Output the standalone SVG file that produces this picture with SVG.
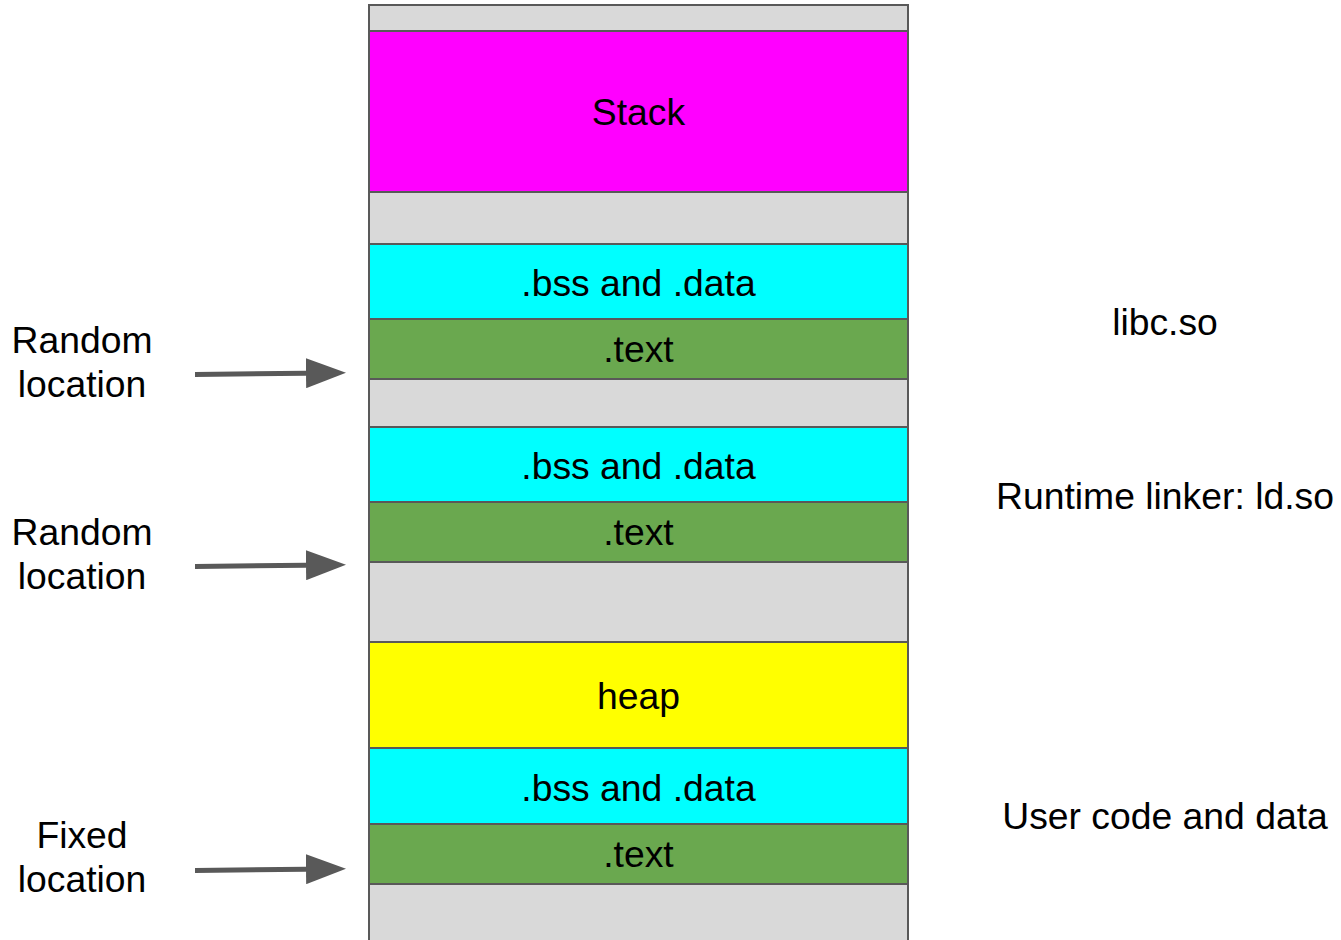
<svg xmlns="http://www.w3.org/2000/svg" width="1341" height="940" viewBox="0 0 1341 940">
<style>
.seg{stroke:#595959;stroke-width:2}
.g{fill:#d9d9d9}.m{fill:#ff00ff}.c{fill:#00ffff}.t{fill:#6aa84f}.y{fill:#ffff00}
text{font-family:"Liberation Sans",Arial,sans-serif;font-size:37.3px;fill:#000}
.mid{text-anchor:middle}
.arr{stroke:#595959;stroke-width:5;fill:none}
</style>
<defs>
<marker id="ah" markerWidth="40" markerHeight="30" refX="0" refY="3" orient="auto" markerUnits="userSpaceOnUse" viewBox="0 0 8 6">
<path d="M0,0 L8,3 L0,6 Z" fill="#595959"/>
</marker>
</defs>
<g id="memory">
<g id="gap0"><rect class="seg g" x="369" y="5" width="539" height="26"/></g>
<g id="stack"><rect class="seg m" x="369" y="31" width="539" height="161"/><text class="mid" x="638.5" y="125">Stack</text></g>
<g id="gap1"><rect class="seg g" x="369" y="192" width="539" height="52"/></g>
<g id="libc-bss"><rect class="seg c" x="369" y="244" width="539" height="75"/><text class="mid" x="638.5" y="296">.bss and .data</text></g>
<g id="libc-text"><rect class="seg t" x="369" y="319" width="539" height="60"/><text class="mid" x="638.5" y="362">.text</text></g>
<g id="gap2"><rect class="seg g" x="369" y="379" width="539" height="48"/></g>
<g id="ld-bss"><rect class="seg c" x="369" y="427" width="539" height="75"/><text class="mid" x="638.5" y="479">.bss and .data</text></g>
<g id="ld-text"><rect class="seg t" x="369" y="502" width="539" height="60"/><text class="mid" x="638.5" y="545">.text</text></g>
<g id="gap3"><rect class="seg g" x="369" y="562" width="539" height="80"/></g>
<g id="heap"><rect class="seg y" x="369" y="642" width="539" height="106"/><text class="mid" x="638.5" y="709">heap</text></g>
<g id="user-bss"><rect class="seg c" x="369" y="748" width="539" height="76"/><text class="mid" x="638.5" y="801">.bss and .data</text></g>
<g id="user-text"><rect class="seg t" x="369" y="824" width="539" height="60"/><text class="mid" x="638.5" y="867">.text</text></g>
<g id="gap4"><rect class="seg g" x="369" y="884" width="539" height="70"/></g>
</g>
<g id="label-libc"><text class="mid" x="1165" y="335">libc.so</text></g>
<g id="label-ld"><text class="mid" x="1165" y="509">Runtime linker: ld.so</text></g>
<g id="label-user"><text class="mid" x="1165" y="829">User code and data</text></g>
<g id="left1"><text class="mid" x="82" y="353">Random</text><text class="mid" x="82" y="397">location</text></g>
<g id="left2"><text class="mid" x="82" y="545">Random</text><text class="mid" x="82" y="589">location</text></g>
<g id="left3"><text class="mid" x="82" y="848">Fixed</text><text class="mid" x="82" y="892">location</text></g>
<g id="connectors">
<line class="arr" x1="195" y1="374.5" x2="306" y2="373.2" marker-end="url(#ah)"/>
<line class="arr" x1="195" y1="566.5" x2="306" y2="565.2" marker-end="url(#ah)"/>
<line class="arr" x1="195" y1="870.5" x2="306" y2="869.2" marker-end="url(#ah)"/>
</g>
</svg>
